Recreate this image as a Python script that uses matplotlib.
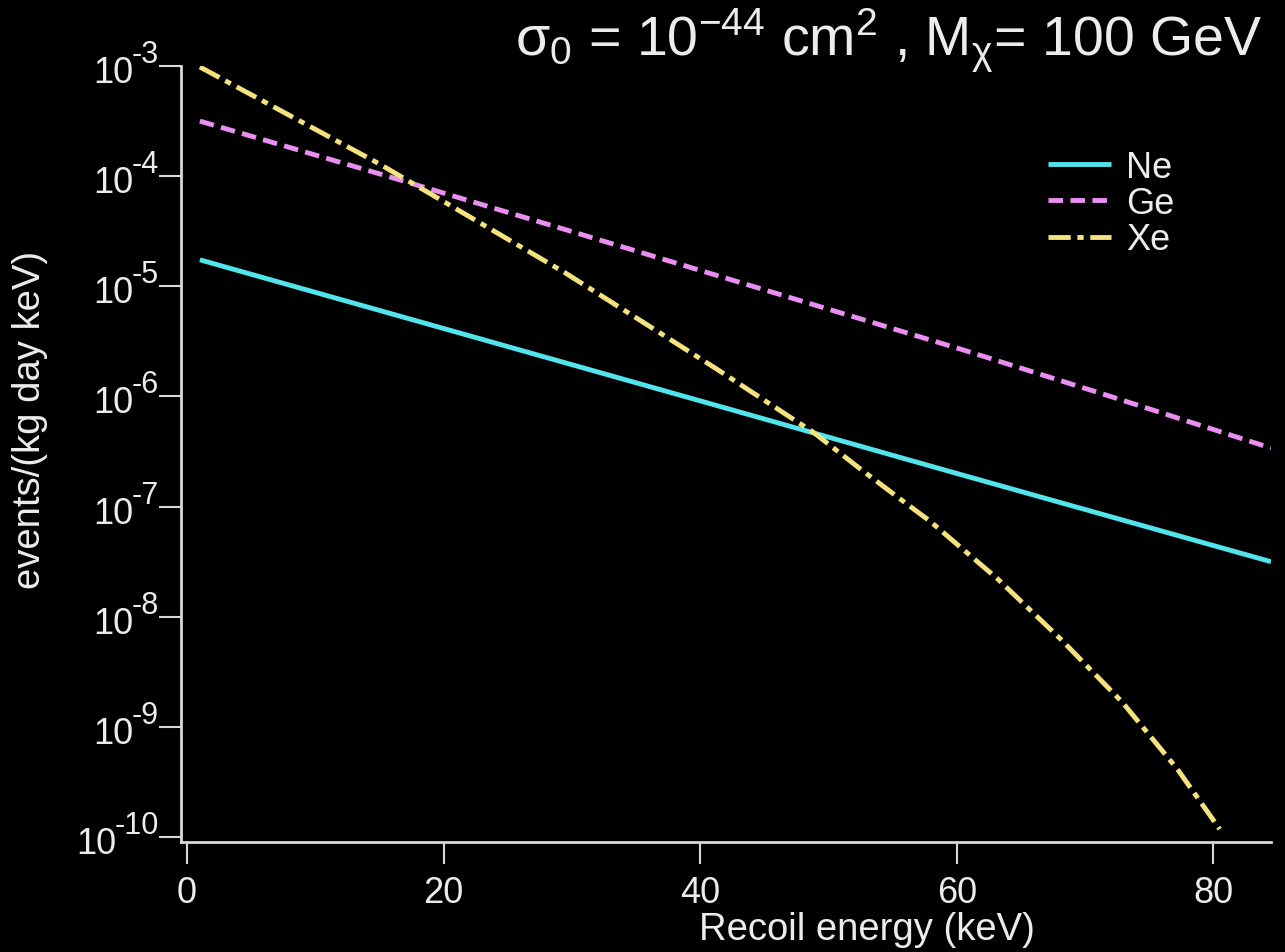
import matplotlib
matplotlib.use('Agg')
import matplotlib.pyplot as plt

plt.rcParams['font.family'] = ['Liberation Sans', 'DejaVu Sans']
plt.rcParams['mathtext.fontset'] = 'custom'
plt.rcParams['mathtext.rm'] = 'Liberation Sans'
plt.rcParams['mathtext.it'] = 'Liberation Sans:italic'
plt.rcParams['lines.scale_dashes'] = False

# ---------------- data ----------------
ne_energy = [1.0, 20.0, 40.0, 60.0, 84.5]
ne_rate = [1.74e-5, 4.14e-6, 9.12e-7, 2.0e-7, 3.16e-8]

ge_energy = [1.0, 15.0, 30.6, 45.0, 60.3, 72.0, 84.5]
ge_rate = [3.16e-4, 1.05e-4, 2.99e-5, 9.3e-6, 2.69e-6, 1.0e-6, 3.4e-7]

xe_energy = [1.0, 15.0, 19.7, 29.5, 35.6, 41.3, 47.0, 48.8, 52.5, 55.6, 57.9,
             63.2, 68.1, 72.9, 77.2, 80.5]
xe_rate = [9.8e-4, 1.29e-4, 6.17e-5, 1.32e-5, 4.68e-6, 1.77e-6, 6.5e-7, 4.75e-7,
           2.19e-7, 1.17e-7, 7.4e-8, 2.2e-8, 6.27e-9, 1.68e-9, 4.14e-10, 1.18e-10]

series_labels = ['Ne', 'Ge', 'Xe']
x_ticks = [0, 20, 40, 60, 80]
y_exponents = [-3, -4, -5, -6, -7, -8, -9, -10]

title_text = (r'σ$\mathregular{_0}$ = 10$\mathregular{^{-44}}$ cm$\mathregular{^{2}}$ , '
              r'M$\mathregular{_{χ}}$= 100 GeV')
xlabel_text = 'Recoil energy (keV)'
ylabel_text = 'events/(kg day keV)'

# ---------------- styling ----------------
W, H = 1285, 953
fg = '#ececec'
spine_c = '#d8d8d8'

fig = plt.figure(figsize=(W / 100, H / 100), dpi=100, facecolor='black')
ax = fig.add_axes([181 / W, 1 - 843 / H, (1271 - 181) / W, (843 - 67) / H])
ax.set_facecolor('black')
ax.set_yscale('log')
ax.set_xlim(-0.47, 84.5)
ax.set_ylim(10 ** -10.045, 1e-3)

ax.plot(ne_energy, ne_rate, color='#52e4ec', lw=3.5, solid_capstyle='butt',
        label=series_labels[0])
ax.plot(ge_energy, ge_rate, color='#ea8ef2', lw=3.5, linestyle=(0, (10.5, 5.3)),
        dash_capstyle='butt', label=series_labels[1])
ax.plot(xe_energy, xe_rate, color='#f3e27e', lw=3.5,
        linestyle=(0, (16, 4.8, 4.5, 4.8)), dash_capstyle='butt',
        label=series_labels[2])

for s in ['top', 'right']:
    ax.spines[s].set_visible(False)
for s in ['left', 'bottom']:
    ax.spines[s].set_color(spine_c)
    ax.spines[s].set_linewidth(2.0)

ax.set_xticks(x_ticks)
ax.set_xticklabels([str(t) for t in x_ticks])
ax.set_yticks([10.0 ** e for e in y_exponents])
ax.yaxis.set_minor_locator(matplotlib.ticker.NullLocator())
ax.tick_params(axis='both', direction='out', length=16, width=1.5, color=spine_c)
ax.tick_params(axis='x', labelsize=26, labelcolor=fg, pad=8)
ax.tick_params(axis='y', labelleft=False)

# y tick labels drawn as "10" with a large superscript exponent
for e in y_exponents:
    v = 10.0 ** e
    sup = ax.annotate(f'-{-e}', xy=(0, v), xycoords=('axes fraction', 'data'),
                      xytext=(-22, 4), textcoords='offset pixels',
                      ha='right', va='baseline', fontsize=22, color=fg,
                      annotation_clip=False)
    ax.annotate('10', xy=(0, v), xycoords=(sup, 'data'),
                xytext=(2, -16), textcoords='offset pixels',
                ha='right', va='baseline', fontsize=26, color=fg,
                annotation_clip=False)

ax.set_xlabel(xlabel_text, fontsize=27.5, color=fg)
ax.xaxis.set_label_coords(0.629, -0.089)
ax.set_ylabel(ylabel_text, fontsize=27.5, color=fg)
ax.yaxis.set_label_coords(-0.122, 0.545)

leg = ax.legend(loc='upper left', bbox_to_anchor=((1048 - 181) / 1090, (843 - 151) / 776),
                frameon=False, fontsize=26, handlelength=1.75, handletextpad=0.42,
                labelspacing=0.03, borderpad=0, borderaxespad=0)
for t in leg.get_texts():
    t.set_color(fg)

fig.text(1262 / W, 1 - 55 / H, title_text, ha='right', va='baseline',
         fontsize=40, color=fg)

fig.savefig('out.png', dpi=100, facecolor='black')
